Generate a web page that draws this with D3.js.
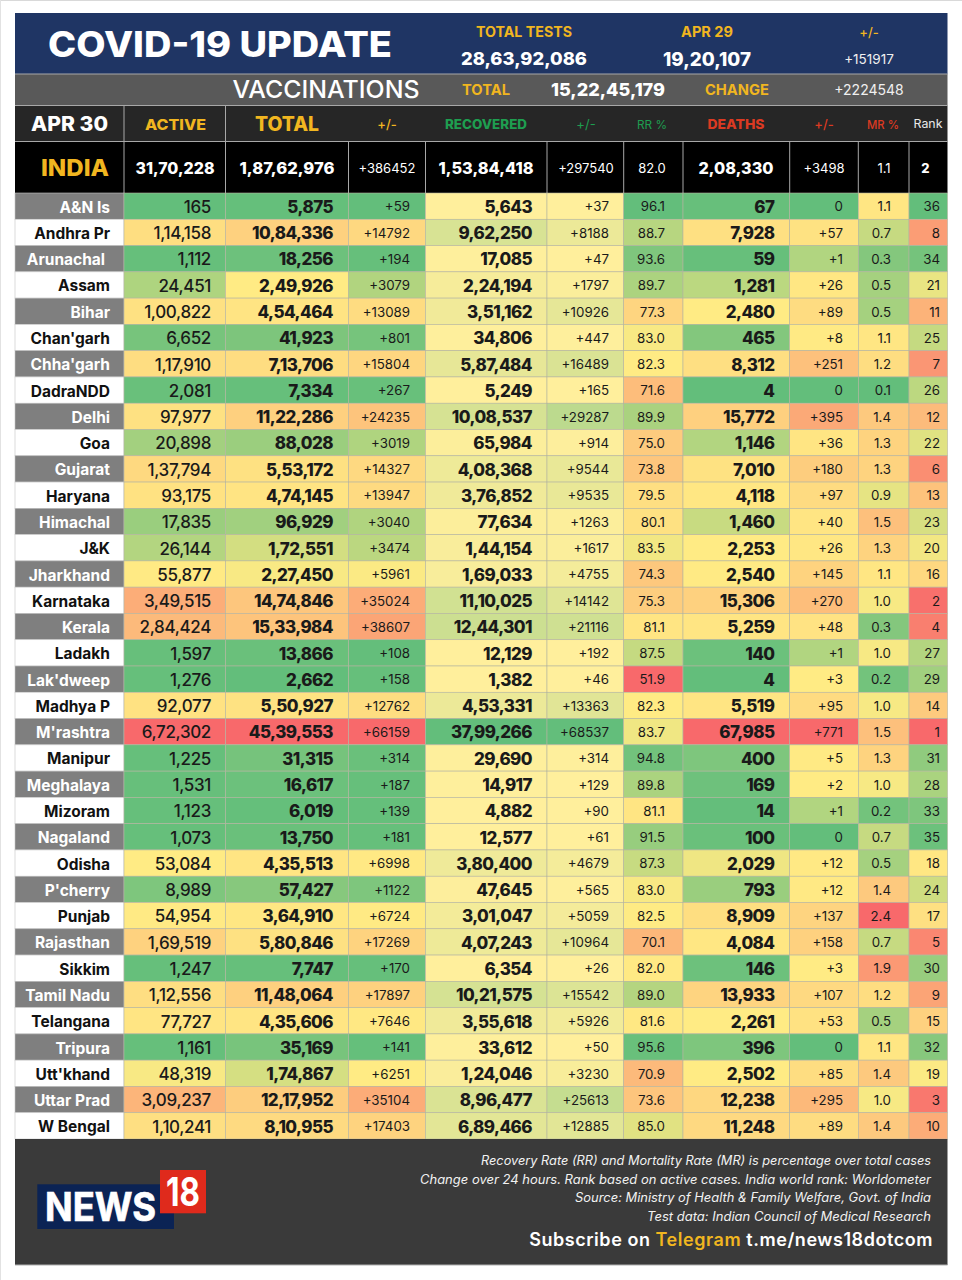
<!DOCTYPE html>
<html>
<head>
<meta charset="utf-8" />
<title>COVID-19 Update</title>
<script src="https://d3js.org/d3.v7.min.js"></script>
<style>
    html, body { margin: 0; padding: 0; background: #fff; }
    svg { display: block; }
    text { font-family: Inter, sans-serif; }
</style>
</head>
<body>
<svg id="chart" width="962" height="1280"></svg>
<script>
//------------------------- data ---------------------------
var states = ["A&N Is", "Andhra Pr", "Arunachal", "Assam", "Bihar", "Chan'garh", "Chha'garh", "DadraNDD", "Delhi", "Goa", "Gujarat", "Haryana", "Himachal", "J&K", "Jharkhand", "Karnataka", "Kerala", "Ladakh", "Lak'dweep", "Madhya P", "M'rashtra", "Manipur", "Meghalaya", "Mizoram", "Nagaland", "Odisha", "P'cherry", "Punjab", "Rajasthan", "Sikkim", "Tamil Nadu", "Telangana", "Tripura", "Utt'khand", "Uttar Prad", "W Bengal"];
var active = [165, 114158, 1112, 24451, 100822, 6652, 117910, 2081, 97977, 20898, 137794, 93175, 17835, 26144, 55877, 349515, 284424, 1597, 1276, 92077, 672302, 1225, 1531, 1123, 1073, 53084, 8989, 54954, 169519, 1247, 112556, 77727, 1161, 48319, 309237, 110241];
var total = [5875, 1084336, 18256, 249926, 454464, 41923, 713706, 7334, 1122286, 88028, 553172, 474145, 96929, 172551, 227450, 1474846, 1533984, 13866, 2662, 550927, 4539553, 31315, 16617, 6019, 13750, 435513, 57427, 364910, 580846, 7747, 1148064, 435606, 35169, 174867, 1217952, 810955];
var totalChange = [59, 14792, 194, 3079, 13089, 801, 15804, 267, 24235, 3019, 14327, 13947, 3040, 3474, 5961, 35024, 38607, 108, 158, 12762, 66159, 314, 187, 139, 181, 6998, 1122, 6724, 17269, 170, 17897, 7646, 141, 6251, 35104, 17403];
var recovered = [5643, 962250, 17085, 224194, 351162, 34806, 587484, 5249, 1008537, 65984, 408368, 376852, 77634, 144154, 169033, 1110025, 1244301, 12129, 1382, 453331, 3799266, 29690, 14917, 4882, 12577, 380400, 47645, 301047, 407243, 6354, 1021575, 355618, 33612, 124046, 896477, 689466];
var recoveredChange = [37, 8188, 47, 1797, 10926, 447, 16489, 165, 29287, 914, 9544, 9535, 1263, 1617, 4755, 14142, 21116, 192, 46, 13363, 68537, 314, 129, 90, 61, 4679, 565, 5059, 10964, 26, 15542, 5926, 50, 3230, 25613, 12885];
var recoveryRate = [96.1, 88.7, 93.6, 89.7, 77.3, 83.0, 82.3, 71.6, 89.9, 75.0, 73.8, 79.5, 80.1, 83.5, 74.3, 75.3, 81.1, 87.5, 51.9, 82.3, 83.7, 94.8, 89.8, 81.1, 91.5, 87.3, 83.0, 82.5, 70.1, 82.0, 89.0, 81.6, 95.6, 70.9, 73.6, 85.0];
var deaths = [67, 7928, 59, 1281, 2480, 465, 8312, 4, 15772, 1146, 7010, 4118, 1460, 2253, 2540, 15306, 5259, 140, 4, 5519, 67985, 400, 169, 14, 100, 2029, 793, 8909, 4084, 146, 13933, 2261, 396, 2502, 12238, 11248];
var deathsChange = [0, 57, 1, 26, 89, 8, 251, 0, 395, 36, 180, 97, 40, 26, 145, 270, 48, 1, 3, 95, 771, 5, 2, 1, 0, 12, 12, 137, 158, 3, 107, 53, 0, 85, 295, 89];
var mortalityRate = [1.1, 0.7, 0.3, 0.5, 0.5, 1.1, 1.2, 0.1, 1.4, 1.3, 1.3, 0.9, 1.5, 1.3, 1.1, 1.0, 0.3, 1.0, 0.2, 1.0, 1.5, 1.3, 1.0, 0.2, 0.7, 0.5, 1.4, 2.4, 0.7, 1.9, 1.2, 0.5, 1.1, 1.4, 1.0, 1.4];
var rank = [36, 8, 34, 21, 11, 25, 7, 26, 12, 22, 6, 13, 23, 20, 16, 2, 4, 27, 29, 14, 1, 31, 28, 33, 35, 18, 24, 17, 5, 30, 9, 15, 32, 19, 3, 10];

var indiaRow = ["31,70,228", "1,87,62,976", "+386452", "1,53,84,418", "+297540", "82.0", "2,08,330", "+3498", "1.1", "2"];
var headers = ["ACTIVE", "TOTAL", "+/-", "RECOVERED", "+/-", "RR %", "DEATHS", "+/-", "MR %", "Rank"];
var footnotes = [
    "Recovery Rate (RR) and Mortality Rate (MR) is percentage over total cases",
    "Change over 24 hours. Rank based on active cases. India world rank: Worldometer",
    "Source: Ministry of Health & Family Welfare, Govt. of India",
    "Test data: Indian Council of Medical Research"
];

//------------------------- layout ---------------------------
var colEdges = [15, 124, 225.5, 348.5, 425.5, 547, 623.7, 683, 789.7, 858.3, 909, 947.5];
var rowTop = 193, rowBottom = 1139;
var GREEN = "#63BE7B", YELLOW = "#FFEB84", RED = "#F8696B", PALE = "#FFEF9C";
var svg = d3.select("#chart");

var x = d3.scaleOrdinal().domain(d3.range(colEdges.length)).range(colEdges);
var y = d3.scaleBand().domain(states).range([rowTop, rowBottom]);

//------------------------- formats ---------------------------
function lakh(v) {
    var s = String(v);
    if (s.length <= 3) return s;
    var head = s.slice(0, -3), out = [];
    while (head.length > 2) { out.unshift(head.slice(-2)); head = head.slice(0, -2); }
    if (head) out.unshift(head);
    return out.join(",") + "," + s.slice(-3);
}
function signed(v) { return v === 0 ? "0" : "+" + v; }
function fixed1(v) { return v.toFixed(1); }
function plain(v) { return String(v); }

//------------------------- colour scales ---------------------------
function hot(values) { // low green, median yellow, high red
    return d3.scaleLinear().domain([d3.min(values), d3.median(values), d3.max(values)]).range([GREEN, YELLOW, RED]);
}
function cold(values) { // low red, median yellow, high green
    return d3.scaleLinear().domain([d3.min(values), d3.median(values), d3.max(values)]).range([RED, YELLOW, GREEN]);
}
function good(values) { // low pale yellow, high green
    return d3.scaleLinear().domain(d3.extent(values)).range([PALE, GREEN]);
}
// this column is not on its median in the picture
var deathsChangeColor = d3.scaleLinear().domain([0, 2, 771]).range([GREEN, YELLOW, RED]);

var columns = [
    { values: active, fmt: lakh, color: hot(active), right: 211, size: 17, weight: 500, spacing: -0.35 },
    { values: total, fmt: lakh, color: hot(total), right: 333, size: 17, weight: 800, spacing: -0.55 },
    { values: totalChange, fmt: signed, color: hot(totalChange), right: 410, size: 13.3, weight: 400, spacing: 0 },
    { values: recovered, fmt: lakh, color: good(recovered), right: 532, size: 17, weight: 800, spacing: -0.55 },
    { values: recoveredChange, fmt: signed, color: good(recoveredChange), right: 609, size: 13.3, weight: 400, spacing: 0 },
    { values: recoveryRate, fmt: fixed1, color: cold(recoveryRate), right: 665, size: 13.3, weight: 400, spacing: 0 },
    { values: deaths, fmt: lakh, color: hot(deaths), right: 774.5, size: 17, weight: 800, spacing: -0.55 },
    { values: deathsChange, fmt: signed, color: deathsChangeColor, right: 843, size: 13.3, weight: 400, spacing: 0 },
    { values: mortalityRate, fmt: fixed1, color: hot(mortalityRate), right: 891, size: 13.3, weight: 400, spacing: 0 },
    { values: rank, fmt: plain, color: cold(rank), right: 940, size: 13.3, weight: 400, spacing: 0 }
];

//------------------------- helpers ---------------------------
function band(y0, y1, fill) {
    return svg.append("rect").attr("x", 15).attr("y", y0)
        .attr("width", 932.5).attr("height", y1 - y0).attr("fill", fill);
}
function label(str, tx, ty, size, weight, fill, anchor, width) {
    var t = svg.append("text").attr("x", tx).attr("y", ty)
        .attr("dominant-baseline", "central")
        .attr("text-anchor", anchor || "middle")
        .attr("font-size", size).attr("font-weight", weight).attr("fill", fill).text(str);
    if (width) t.attr("textLength", width).attr("lengthAdjust", "spacingAndGlyphs");
    return t;
}
function hline(y0) {
    svg.append("line").attr("x1", 15).attr("x2", 947.5).attr("y1", y0).attr("y2", y0)
        .attr("stroke", "#a8a8a8").attr("stroke-width", 1);
}

//------------------------- page edge ---------------------------
svg.append("line").attr("x1", 0).attr("x2", 962).attr("y1", 0.5).attr("y2", 0.5).attr("stroke", "#d9d9d9");
svg.append("line").attr("x1", 0.5).attr("x2", 0.5).attr("y1", 0).attr("y2", 1280).attr("stroke", "#e2e2e2");

//------------------------- top bands ---------------------------
var GOLD = "#F1B620";
band(13, 74, "#1F3564");
band(74, 105.5, "#595959");
band(105.5, 141.5, "#262626");
band(141.5, 193, "#000000");
hline(74); hline(105.5); hline(141.5);

label("COVID-19 UPDATE", 48, 43.5, 35, 800, "#fff", "start", 344);
label("TOTAL TESTS", 524, 31.5, 14, 700, GOLD, "middle", 96);
label("28,63,92,086", 524, 58.5, 18, 800, "#fff", "middle", 126);
label("APR 29", 707, 31.5, 14.5, 700, GOLD, "middle", 52);
label("19,20,107", 707, 58.5, 18.5, 800, "#fff", "middle", 88);
label("+/-", 869, 31.5, 13, 500, GOLD);
label("+151917", 869, 58.5, 13.5, 400, "#f0f0f0");

label("VACCINATIONS", 326, 89, 24, 500, "#fff", "middle", 187);
label("TOTAL", 486, 89.5, 14.5, 700, GOLD, "middle", 48);
label("15,22,45,179", 608, 89.5, 18, 800, "#fff", "middle", 114);
label("CHANGE", 737, 89.5, 14.5, 700, GOLD, "middle", 64);
label("+2224548", 869, 89.5, 14, 400, "#f0f0f0");

//------------------------- column heads ---------------------------
var headStyle = [
    { cx: 175.5, size: 15, weight: 800, fill: GOLD, width: 61 },
    { cx: 287, size: 20, weight: 800, fill: GOLD, width: 64 },
    { cx: 387, size: 13, weight: 500, fill: GOLD },
    { cx: 486, size: 12.5, weight: 800, fill: "#1E9E50", width: 82 },
    { cx: 586, size: 13, weight: 400, fill: "#1E9E50" },
    { cx: 652, size: 12, weight: 400, fill: "#1E9E50", width: 30 },
    { cx: 736, size: 13.5, weight: 800, fill: "#DB3A22", width: 57 },
    { cx: 824, size: 13, weight: 500, fill: "#DB3A22" },
    { cx: 883, size: 12, weight: 500, fill: "#DB3A22", width: 32 },
    { cx: 928, size: 11.5, weight: 400, fill: "#e8e8e8", width: 29 }
];
label("APR 30", 69.5, 124, 20, 800, "#fff", "middle", 77);
headers.forEach(function (h, i) {
    var s = headStyle[i];
    label(h, s.cx, 124, s.size, s.weight, s.fill, "middle", s.width);
});
[1, 2].forEach(function (i) {
    svg.append("line").attr("x1", x(i)).attr("x2", x(i)).attr("y1", 105.5).attr("y2", 141.5).attr("stroke", "#a8a8a8");
});

//------------------------- india row ---------------------------
label("INDIA", 109, 167.5, 23, 800, GOLD, "end", 68);
var indiaStyle = [[16, 800, 79], [16, 800, 95], [13, 400], [16, 800, 95], [13, 400], [13, 400], [16, 800, 75], [13, 400], [13, 400], [13, 800]];
var indiaCentre = [175, 287, 387, 486, 586, 652, 736, 824, 884, 925.5];
indiaRow.forEach(function (v, i) {
    label(v, indiaCentre[i], 167.5, indiaStyle[i][0], indiaStyle[i][1], "#fff", "middle", indiaStyle[i][2]);
});
d3.range(1, colEdges.length - 1).forEach(function (i) {
    svg.append("line").attr("x1", x(i)).attr("x2", x(i)).attr("y1", 141.5).attr("y2", 193).attr("stroke", "#a8a8a8");
});

//------------------------- state labels ---------------------------
var stateRows = svg.append("g").selectAll("g").data(states).enter().append("g")
    .attr("transform", function (d) { return "translate(0," + y(d) + ")"; });
stateRows.append("rect")
    .attr("x", x(0)).attr("width", x(1) - x(0)).attr("height", y.bandwidth())
    .attr("fill", function (d, i) { return i % 2 ? "#fff" : "#7F7F7F"; })
    .attr("stroke", "#c4c4c4").attr("stroke-width", 0.6);
stateRows.append("text")
    .attr("x", function (d) { return d === "Arunachal" ? 105 : 110; })
    .attr("y", y.bandwidth() / 2 + 1)
    .attr("dominant-baseline", "central").attr("text-anchor", "end")
    .attr("font-family", "Roboto, sans-serif")
    .attr("font-size", 15.5).attr("font-weight", 700)
    .attr("fill", function (d, i) { return i % 2 ? "#111" : "#fff"; })
    .text(function (d) { return d; });

//------------------------- value cells ---------------------------
columns.forEach(function (col, c) {
    var g = svg.append("g");
    g.selectAll("rect").data(col.values).enter().append("rect")
        .attr("x", x(c + 1))
        .attr("y", function (d, i) { return y(states[i]); })
        .attr("width", x(c + 2) - x(c + 1))
        .attr("height", y.bandwidth())
        .attr("fill", function (d) { return col.color(d); })
        .attr("stroke", "#b4b4a0").attr("stroke-width", 0.6);
    g.selectAll("text").data(col.values).enter().append("text")
        .attr("x", col.right)
        .attr("y", function (d, i) { return y(states[i]) + y.bandwidth() / 2 + (col.size > 15 ? 0.8 : 0.3); })
        .attr("dominant-baseline", "central").attr("text-anchor", "end")
        .attr("font-size", col.size).attr("font-weight", col.weight)
        .attr("letter-spacing", col.spacing)
        .attr("fill", "#1a1a1a")
        .text(function (d) { return col.fmt(d); });
});

//------------------------- footer ---------------------------
band(1139, 1265, "#3A3A3A");
svg.append("line").attr("x1", 15).attr("x2", 947.5).attr("y1", 1265).attr("y2", 1265).attr("stroke", "#b0b0b0");
var footWidths = [450, 511, 356, 284];
footnotes.forEach(function (s, i) {
    label(s, 931, 1160.5 + i * 18.7, 12.5, 400, "#f2f2f2", "end", footWidths[i])
        .attr("font-style", "italic").attr("font-family", "'Open Sans', sans-serif");
});
var sub = label("", 933, 1239, 18, 600, "#fff", "end").attr("letter-spacing", 0.55);
sub.append("tspan").text("Subscribe on ");
sub.append("tspan").attr("fill", GOLD).text("Telegram");
sub.append("tspan").text(" t.me/news18dotcom");

//------------------------- logo ---------------------------
svg.append("rect").attr("x", 37.3).attr("y", 1184.3).attr("width", 136.7).attr("height", 44.7).attr("fill", "#0B2354");
svg.append("rect").attr("x", 160).attr("y", 1170).attr("width", 46).attr("height", 43.3).attr("fill", "#DF2A1C");
svg.append("text").attr("x", 45).attr("y", 1221).attr("font-family", "'Liberation Sans', sans-serif")
    .attr("font-size", 39.5).attr("font-weight", 700).attr("fill", "#fff")
    .attr("stroke", "#fff").attr("stroke-width", 0.7)
    .attr("textLength", 111).attr("lengthAdjust", "spacingAndGlyphs").text("NEWS");
svg.append("text").attr("x", 183).attr("y", 1206).attr("text-anchor", "middle")
    .attr("font-family", "'Liberation Sans', sans-serif")
    .attr("font-size", 40).attr("font-weight", 700).attr("fill", "#fff")
    .attr("textLength", 34).attr("lengthAdjust", "spacingAndGlyphs").text("18");
</script>
</body>
</html>
